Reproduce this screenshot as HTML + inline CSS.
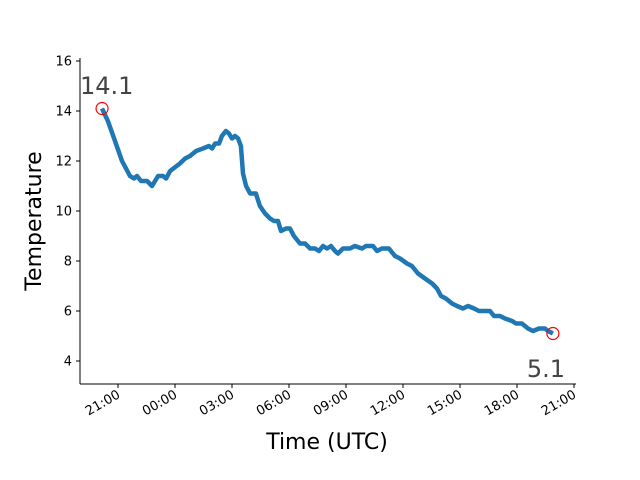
<!DOCTYPE html>
<html><head><meta charset="utf-8"><style>
html,body{margin:0;padding:0;background:#fff;}
svg{display:block;font-family:"DejaVu Sans","Liberation Sans",sans-serif;}
</style></head><body>
<svg id="chart" width="640" height="480"></svg>
<script>
const hours = [-0.84,-0.53,-0.16,0.21,0.63,0.84,1.0,1.21,1.53,1.79,2.11,2.37,2.53,2.74,3.26,3.53,3.79,4.11,4.47,4.79,4.95,5.11,5.32,5.47,5.68,5.84,6.0,6.16,6.32,6.47,6.58,6.74,6.95,7.26,7.47,7.74,8.0,8.21,8.42,8.58,8.84,9.05,9.26,9.58,9.84,10.11,10.37,10.58,10.79,11.0,11.21,11.42,11.58,11.84,12.21,12.47,12.84,13.05,13.42,13.63,13.89,14.26,14.58,14.84,15.21,15.47,15.79,16.16,16.53,16.79,17.0,17.26,17.58,17.84,18.16,18.42,18.74,19.0,19.58,19.79,20.11,20.37,20.74,20.95,21.26,21.58,21.84,22.16,22.47,22.63,22.89];
const temps = [14.1,13.6,12.8,12.0,11.4,11.3,11.4,11.2,11.2,11.0,11.4,11.4,11.3,11.6,11.9,12.1,12.2,12.4,12.5,12.6,12.5,12.7,12.7,13.0,13.2,13.1,12.9,13.0,12.9,12.6,11.5,11.0,10.7,10.7,10.2,9.9,9.7,9.6,9.6,9.2,9.3,9.3,9.0,8.7,8.7,8.5,8.5,8.4,8.6,8.5,8.6,8.4,8.3,8.5,8.5,8.6,8.5,8.6,8.6,8.4,8.5,8.5,8.2,8.1,7.9,7.8,7.5,7.3,7.1,6.9,6.6,6.5,6.3,6.2,6.1,6.2,6.1,6.0,6.0,5.8,5.8,5.7,5.6,5.5,5.5,5.3,5.2,5.3,5.3,5.2,5.1];
const yTicks = [4,6,8,10,12,14,16];
const xTickHours = [0,3,6,9,12,15,18,21,24];
const xTickLabels = ["21:00","00:00","03:00","06:00","09:00","12:00","15:00","18:00","21:00"];

const NS="http://www.w3.org/2000/svg";
const svg=document.getElementById('chart');
function X(h){return 118+h*19;}
function Y(v){return 361-(v-4)*25;}
function mk(tag,attrs,txt){const e=document.createElementNS(NS,tag);for(const k in attrs)e.setAttribute(k,attrs[k]);if(txt!==undefined)e.textContent=txt;svg.appendChild(e);return e;}

let e;
e=mk('line',{x1:80,y1:58,x2:80,y2:384,stroke:'#000','stroke-width':1});


e=mk('line',{x1:80,y1:384,x2:576,y2:384,stroke:'#000','stroke-width':1});



yTicks.forEach(v=>{
  const y=Y(v);
  e=mk('line',{x1:76,y1:y,x2:80,y2:y,stroke:'#000','stroke-width':1});
  
  
  e=mk('text',{x:72,y:y+4.5,'font-size':13,'text-anchor':'end',fill:'#000'},String(v));
  
  
});
xTickHours.forEach((h,i)=>{
  const x=X(h);
  e=mk('line',{x1:x,y1:384,x2:x,y2:388,stroke:'#000','stroke-width':1});
  
  
  e=mk('text',{x:x+3,y:397,'font-size':13,'text-anchor':'end',fill:'#000',transform:'rotate(-30 '+(x+3)+' 397)'},xTickLabels[i]);
  
  
});

const d=hours.map((h,i)=>(i?'L':'M')+X(h).toFixed(1)+' '+Y(temps[i]).toFixed(1)).join(' ');
e=mk('path',{d:d,fill:'none',stroke:'#1f77b4','stroke-width':4.5,'stroke-linejoin':'round','stroke-linecap':'butt'});



const n=hours.length-1;
e=mk('circle',{cx:X(hours[0]),cy:Y(temps[0]),r:6,fill:'none',stroke:'#ff0000','stroke-width':1.2});


e=mk('circle',{cx:X(hours[n]),cy:Y(temps[n]),r:6,fill:'none',stroke:'#ff0000','stroke-width':1.2});


e=mk('text',{x:80,y:94,'font-size':24,fill:'#444'},temps[0].toFixed(1));


e=mk('text',{x:565,y:377,'font-size':24,fill:'#444','text-anchor':'end'},temps[n].toFixed(1));



e=mk('text',{x:327,y:449,'font-size':22,'text-anchor':'middle',fill:'#000'},'Time (UTC)');


e=mk('text',{x:41,y:221,'font-size':22,'text-anchor':'middle',fill:'#000',transform:'rotate(-90 41 221)'},'Temperature');


</script>
</body></html>
